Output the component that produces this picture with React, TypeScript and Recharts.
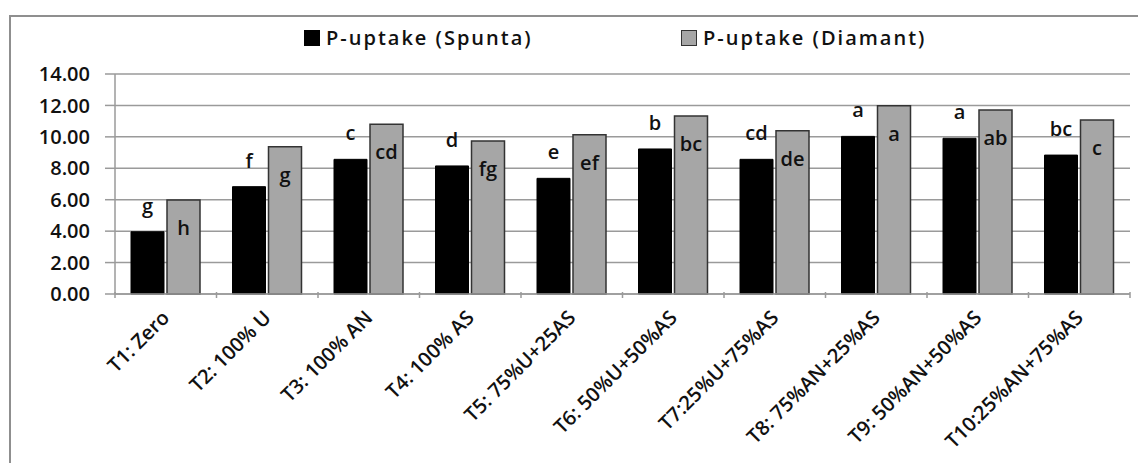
import React from 'react'
import { BarChart, Bar, XAxis, YAxis, CartesianGrid, Legend, LabelList } from 'recharts'

const treatments = [
    'T1: Zero',
    'T2: 100% U',
    'T3: 100% AN',
    'T4: 100% AS',
    'T5: 75%U+25AS',
    'T6: 50%U+50%AS',
    'T7:25%U+75%AS',
    'T8: 75%AN+25%AS',
    'T9: 50%AN+50%AS',
    'T10:25%AN+75%AS',
]
const spunta = [3.96, 6.83, 8.57, 8.15, 7.36, 9.23, 8.57, 10.03, 9.91, 8.84]
const diamant = [5.98, 9.37, 10.8, 9.74, 10.14, 11.33, 10.39, 11.98, 11.71, 11.08]
const spuntaLetters = ['g', 'f', 'c', 'd', 'e', 'b', 'cd', 'a', 'a', 'bc']
const diamantLetters = ['h', 'g', 'cd', 'fg', 'ef', 'bc', 'de', 'a', 'ab', 'c']
const yTicks = [0, 2, 4, 6, 8, 10, 12, 14]

const data = treatments.map((name, i) => ({
    name,
    spunta: spunta[i],
    diamant: diamant[i],
    sigS: spuntaLetters[i],
    sigD: diamantLetters[i],
}))

const FONT = '"Open Sans", sans-serif'
const TEXT = '#111'
const GRID = '#9a9a9a'

function CategoryTick(props: any) {
    const { x, y, payload, index } = props
    const half = payload && payload.offset ? payload.offset : 50.75
    const ax = y - 10
    const tx = x + 5
    const ty = ax + 27
    return (
        <g>
            <line x1={x - half} y1={ax} x2={x - half} y2={ax + 6} stroke={GRID} strokeWidth={1.5} />
            {index === treatments.length - 1 && (
                <line x1={x + half} y1={ax} x2={x + half} y2={ax + 6} stroke={GRID} strokeWidth={1.5} />
            )}
            <text
                x={tx}
                y={ty}
                transform={`rotate(-45, ${tx}, ${ty})`}
                textAnchor="end"
                fontFamily={FONT}
                fontWeight={600}
                fontSize={20}
                fill={TEXT}
            >
                {payload.value}
            </text>
        </g>
    )
}

function TopLetter(props: any) {
    const { x, y, width, value } = props
    return (
        <text x={x + width / 2} y={y - 19} textAnchor="middle" fontFamily={FONT} fontWeight={600} fontSize={20} fill={TEXT}>
            {value}
        </text>
    )
}

function InsideLetter(props: any) {
    const { x, y, width, value } = props
    return (
        <text x={x + width / 2} y={y + 35} textAnchor="middle" fontFamily={FONT} fontWeight={600} fontSize={20} fill={TEXT}>
            {value}
        </text>
    )
}

function LegendContent() {
    const items = [
        { label: 'P-uptake (Spunta)', fill: '#000', stroke: '#000', left: 304 },
        { label: 'P-uptake (Diamant)', fill: '#a6a6a6', stroke: '#333', left: 681 },
    ]
    return (
        <div style={{ position: 'relative', height: 30 }}>
            {items.map((it) => (
                <div
                    key={it.label}
                    style={{ position: 'absolute', left: it.left, top: 0, display: 'flex', alignItems: 'center' }}
                >
                    <span
                        style={{
                            width: 14,
                            height: 14,
                            background: it.fill,
                            border: `1.5px solid ${it.stroke}`,
                            display: 'inline-block',
                            marginRight: 6,
                        }}
                    />
                    <span
                        style={{
                            fontFamily: FONT,
                            fontWeight: 600,
                            fontSize: 20,
                            letterSpacing: 2,
                            color: TEXT,
                            whiteSpace: 'nowrap',
                        }}
                    >
                        {it.label}
                    </span>
                </div>
            ))}
        </div>
    )
}

export default function App() {
    return (
        <div
            style={{
                position: 'absolute',
                left: 0,
                top: 0,
                width: 1138,
                height: 463,
                background: '#fff',
                overflow: 'hidden',
            }}
        >
            <div
                style={{
                    position: 'absolute',
                    left: 9,
                    top: 15,
                    width: 1200,
                    height: 600,
                    borderTop: '2px solid #8f8f8f',
                    borderLeft: '2px solid #8f8f8f',
                }}
            />
            <div style={{ position: 'absolute', left: 0, top: 0 }}>
                <BarChart
                    width={1138}
                    height={463}
                    data={data}
                    margin={{ top: 74, right: 8, bottom: 0, left: 0 }}
                    barSize={33}
                    barGap={3}
                >
                    <CartesianGrid vertical={false} stroke={GRID} strokeWidth={1.5} />
                    <XAxis
                        dataKey="name"
                        height={169}
                        interval={0}
                        axisLine={{ stroke: GRID, strokeWidth: 1.5 }}
                        tickLine={false}
                        tick={<CategoryTick />}
                    />
                    <YAxis
                        width={115}
                        domain={[0, 14]}
                        ticks={yTicks}
                        tickFormatter={(v: number) => v.toFixed(2)}
                        axisLine={{ stroke: GRID, strokeWidth: 1.5 }}
                        tickLine={{ stroke: GRID, strokeWidth: 1.5 }}
                        tickSize={10}
                        tickMargin={15}
                        tick={{ fontFamily: FONT, fontWeight: 600, fontSize: 20, fill: TEXT }}
                    />
                    <Legend
                        verticalAlign="middle"
                        align="center"
                        content={<LegendContent />}
                        wrapperStyle={{ top: 24, left: 0, width: 1138 }}
                    />
                    <Bar dataKey="spunta" name="P-uptake (Spunta)" fill="#000" stroke="#000" strokeWidth={1} isAnimationActive={false}>
                        <LabelList dataKey="sigS" content={<TopLetter />} />
                    </Bar>
                    <Bar dataKey="diamant" name="P-uptake (Diamant)" fill="#a6a6a6" stroke="#333" strokeWidth={1.5} isAnimationActive={false}>
                        <LabelList dataKey="sigD" content={<InsideLetter />} />
                    </Bar>
                </BarChart>
            </div>
        </div>
    )
}
